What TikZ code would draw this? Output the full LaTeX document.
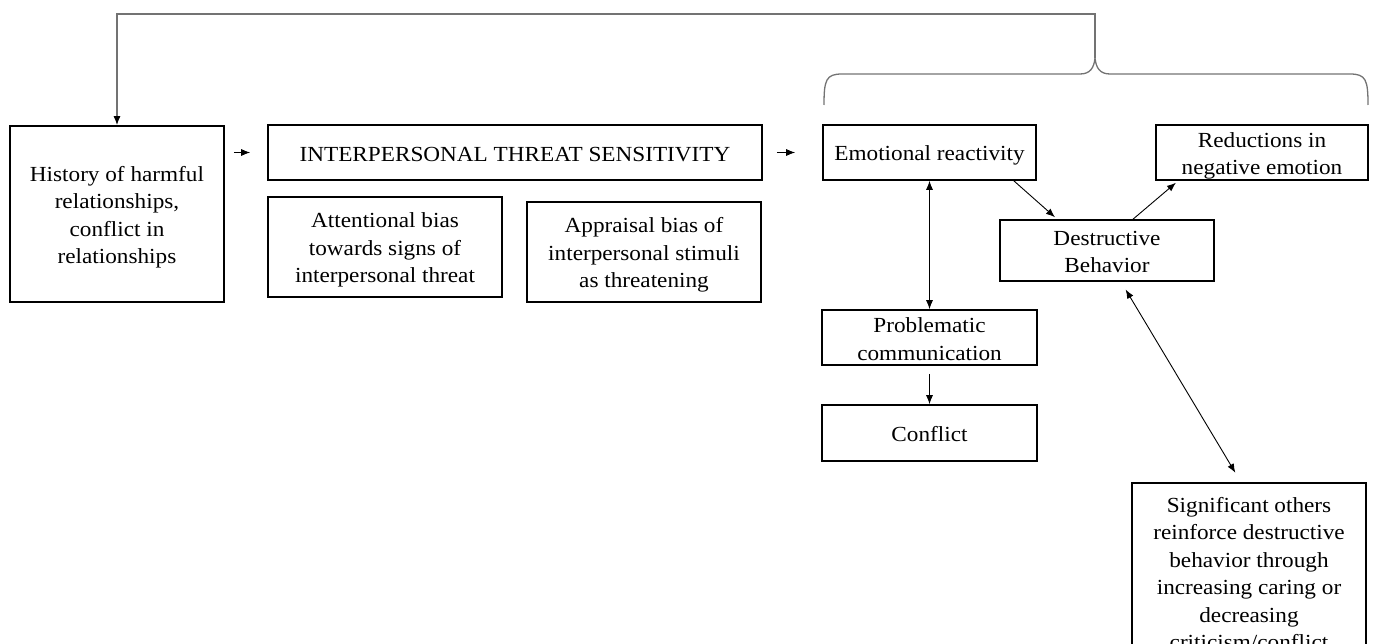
\documentclass[tikz,border=0pt]{standalone}
\usepackage{fontspec}
\setmainfont{Liberation Serif}[FakeStretch=1.08]
\usetikzlibrary{arrows.meta}
\tikzset{
  box/.style={draw, line width=1.6pt, align=flush center, inner sep=0pt,
    execute at begin node={\rule{0pt}{21.5pt}}, execute at end node={\rule[-4pt]{0pt}{4pt}}},
  link/.style={line width=0.9pt, -{Latex[length=9pt,width=7pt]}},
  twoway/.style={line width=0.9pt, {Latex[length=9pt,width=7pt]}-{Latex[length=9pt,width=7pt]}},
  brace/.style={draw=black!55, line width=1.3pt},
}
\begin{document}
\begin{tikzpicture}[x=1pt, y=-1pt, font=\fontsize{21.5}{27.5}\selectfont]
    \useasboundingbox (0,0) rectangle (1373,644);

    % left column
    \node[box, minimum width=214pt, text width=204pt, minimum height=176pt] (hist) at (117,214) {History of harmful\\relationships,\\conflict in\\relationships};
    \node[box, minimum width=494pt, text width=484pt, minimum height=55pt] (its) at (515,152.5) {INTERPERSONAL THREAT SENSITIVITY};
    \node[box, minimum width=234pt, text width=224pt, minimum height=100pt] (attn) at (385,247) {Attentional bias\\towards signs of\\interpersonal threat};
    \node[box, minimum width=234pt, text width=224pt, minimum height=100pt] (appr) at (644,252) {Appraisal bias of\\interpersonal stimuli\\as threatening};

    % right part
    \node[box, minimum width=213pt, text width=203pt, minimum height=55pt] (emo) at (929.5,152.5) {Emotional reactivity};
    \node[box, minimum width=212pt, text width=202pt, minimum height=55pt] (red) at (1262,152.5) {Reductions in\\negative emotion};
    \node[box, minimum width=214pt, text width=204pt, minimum height=61pt] (dest) at (1107,250.5) {Destructive\\Behavior};
    \node[box, minimum width=215pt, text width=205pt, minimum height=55pt] (prob) at (929.5,337.5) {Problematic\\communication};
    \node[box, minimum width=215pt, text width=205pt, minimum height=56pt] (conf) at (929.5,433) {Conflict};
    \node[box, minimum width=234pt, text width=224pt, minimum height=178pt] (sig) at (1249,572) {Significant others\\reinforce destructive\\behavior through\\increasing caring or\\decreasing\\criticism/conflict};

    % arrows
    \draw[link, shorten <=9pt, shorten >=17pt] (hist.east |- its.west) -- (its.west);
    \draw[link, shorten <=14pt, shorten >=27pt] (its.east) -- (emo.west);
    \draw[link, shorten >=3pt] ([xshift=-23pt]emo.south east) -- ([xshift=58pt]dest.north west);
    \draw[link, shorten >=3pt] ([xshift=26pt]dest.north) -- ([xshift=23pt]red.south west);
    \draw[twoway] (emo.south) -- (prob.north);
    \draw[link, shorten <=8pt] (prob.south) -- (conf.north);
    \draw[twoway, shorten <=9pt, shorten >=11pt] ([xshift=14pt]dest.south) -- ([xshift=-8pt]sig.north);

    % brace and feedback line
    \coordinate (tip) at (1095,58);
    \coordinate (top) at (1095,14);
    \draw[brace] (824,105) .. controls (824,80) and (826,74) .. (842,74) -- (1080,74)
        .. controls (1090,74) and (1094,68) .. (tip)
        .. controls (1096,68) and (1100,74) .. (1110,74) -- (1350,74)
        .. controls (1366,74) and (1368,80) .. (1368,105);
    \draw[brace, -{Latex[length=9pt,width=7pt,color=black]}] (tip) -- (top) -| (hist);
\end{tikzpicture}
\end{document}
